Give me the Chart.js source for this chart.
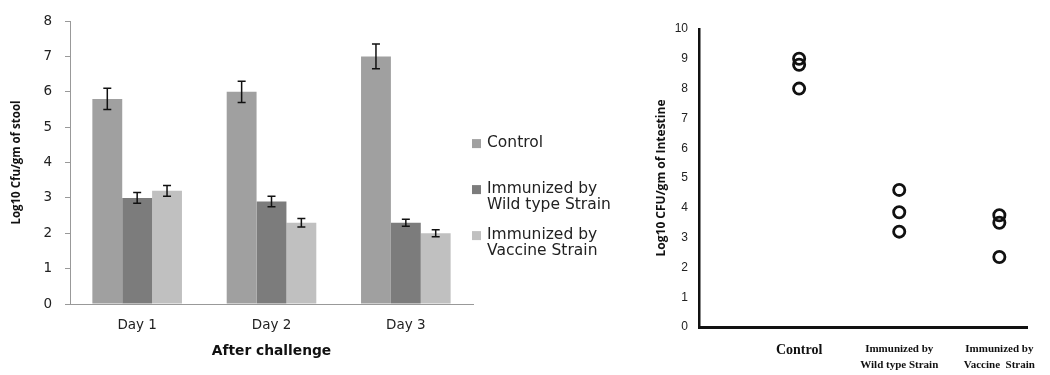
<!DOCTYPE html>
<html>
<head>
<meta charset="utf-8">
<script src="https://cdn.jsdelivr.net/npm/chart.js@4/dist/chart.umd.min.js"></script>
<style>
  html, body { margin: 0; padding: 0; background: #fff; }
  #wrap { position: relative; width: 1050px; height: 375px; overflow: hidden; }
  #left { position: absolute; left: 0; top: 0; }
  #right { position: absolute; left: 630px; top: 0; }
</style>
</head>
<body>
<div id="wrap">
  <canvas id="left" width="630" height="375"></canvas>
  <canvas id="right" width="420" height="375"></canvas>
</div>
<script>
// ---------- Left chart data (Log10 CFU/gm of stool) ----------
const days = ["Day 1", "Day 2", "Day 3"];
const seriesNames = ["Control", ["Immunized by", "Wild type Strain"], ["Immunized by", "Vaccine Strain"]];
const controlStool = [5.8, 6.0, 7.0];
const controlStoolErr = [0.3, 0.3, 0.35];
const wildStool = [3.0, 2.9, 2.3];
const wildStoolErr = [0.15, 0.15, 0.1];
const vaccineStool = [3.2, 2.3, 2.0];
const vaccineStoolErr = [0.15, 0.12, 0.1];
const stoolTicks = [0, 1, 2, 3, 4, 5, 6, 7, 8];

// ---------- Right chart data (Log10 CFU/gm of intestine) ----------
const groups = ["Control", ["Immunized by", "Wild type Strain"], ["Immunized by", "Vaccine  Strain"]];
const groupPositions = [1, 2, 3];
const controlIntestine = [9.0, 8.8, 8.0];
const wildIntestine = [4.6, 3.85, 3.2];
const vaccineIntestine = [3.75, 3.5, 2.35];
const intestineTicks = [0, 1, 2, 3, 4, 5, 6, 7, 8, 9, 10];

const SANS = "'DejaVu Sans', 'Open Sans', sans-serif";

// Error bar plugin: uses bar element positions and the y scale
const errorBarPlugin = {
  id: 'errorBars',
  afterDatasetsDraw(chart) {
    const ctx = chart.ctx;
    const y = chart.scales.y;
    ctx.save();
    ctx.strokeStyle = '#111';
    ctx.lineWidth = 1.5;
    chart.data.datasets.forEach((ds, di) => {
      const meta = chart.getDatasetMeta(di);
      meta.data.forEach((bar, i) => {
        const v = ds.data[i], e = ds.errors[i];
        const yTop = y.getPixelForValue(v + e);
        const yBot = y.getPixelForValue(v - e);
        const x = bar.x, cap = 4;
        ctx.beginPath();
        ctx.moveTo(x, yTop); ctx.lineTo(x, yBot);
        ctx.moveTo(x - cap, yTop); ctx.lineTo(x + cap, yTop);
        ctx.moveTo(x - cap, yBot); ctx.lineTo(x + cap, yBot);
        ctx.stroke();
      });
    });
    ctx.restore();
  }
};

// Legend plugin with multi-line labels
const sideLegendPlugin = {
  id: 'sideLegend',
  afterDraw(chart) {
    const ctx = chart.ctx;
    const area = chart.chartArea;
    const x0 = area.right - 1;
    let yLine = area.top + 122;
    ctx.save();
    ctx.font = '15.5px ' + SANS;
    ctx.textBaseline = 'middle';
    ctx.textAlign = 'left';
    chart.data.datasets.forEach((ds) => {
      const lines = Array.isArray(ds.label) ? ds.label : [ds.label];
      ctx.fillStyle = ds.backgroundColor;
      ctx.fillRect(x0, yLine - 4, 9, 9);
      ctx.fillStyle = '#222';
      lines.forEach((t, k) => ctx.fillText(t, x0 + 15, yLine + k * 16));
      yLine += 46;
    });
    ctx.restore();
  }
};

new Chart(document.getElementById('left'), {
  type: 'bar',
  data: {
    labels: days,
    datasets: [
      { label: seriesNames[0], data: controlStool, errors: controlStoolErr, backgroundColor: '#a0a0a0' },
      { label: seriesNames[1], data: wildStool, errors: wildStoolErr, backgroundColor: '#7c7c7c' },
      { label: seriesNames[2], data: vaccineStool, errors: vaccineStoolErr, backgroundColor: '#c0c0c0' }
    ]
  },
  options: {
    responsive: false,
    animation: false,
    devicePixelRatio: 1,
    layout: { padding: { top: 16, right: 157, bottom: 0, left: 0 } },
    plugins: { legend: { display: false }, tooltip: { enabled: false } },
    datasets: { bar: { categoryPercentage: 0.667, barPercentage: 1.0 } },
    scales: {
      x: {
        grid: { display: false, drawTicks: false },
        border: { display: true, color: '#999', width: 1 },
        ticks: { padding: 13, color: '#222', font: { family: SANS, size: 13.5 } },
        title: { display: true, text: 'After challenge', color: '#111',
                 font: { family: SANS, size: 13.8, weight: 'bold' }, padding: { top: 0, bottom: 15 } },
        afterFit(scale) { scale.height = 71; }
      },
      y: {
        min: 0, max: 8,
        afterBuildTicks(scale) { scale.ticks = stoolTicks.map(v => ({ value: v })); },
        grid: { drawOnChartArea: false, drawTicks: true, tickLength: 5, color: '#999' },
        border: { display: true, color: '#999', width: 1 },
        ticks: { padding: 13, color: '#222', font: { family: SANS, size: 13.5 } },
        title: { display: true, text: 'Log10 Cfu/gm of stool', color: '#111',
                 font: { family: "'Open Sans', sans-serif", size: 11.5, weight: 'bold' }, padding: { top: 10, bottom: 0 } },
        afterFit(scale) { scale.width = 70; }
      }
    }
  },
  plugins: [errorBarPlugin, sideLegendPlugin]
});

// ---------- Right chart ----------
const toPoints = (pos, vals) => vals.map(v => ({ x: pos, y: v }));
const pointStyle = { pointRadius: 5.6, pointBorderWidth: 2.8, pointBorderColor: '#111',
                     pointBackgroundColor: 'rgba(255,255,255,0)', showLine: false };

new Chart(document.getElementById('right'), {
  type: 'scatter',
  data: {
    datasets: [
      Object.assign({ label: 'Control', data: toPoints(groupPositions[0], controlIntestine) }, pointStyle),
      Object.assign({ label: 'Wild type', data: toPoints(groupPositions[1], wildIntestine) }, pointStyle),
      Object.assign({ label: 'Vaccine', data: toPoints(groupPositions[2], vaccineIntestine) }, pointStyle)
    ]
  },
  options: {
    responsive: false,
    animation: false,
    devicePixelRatio: 1,
    layout: { padding: { top: 29, right: 13, bottom: 0, left: 0 } },
    plugins: { legend: { display: false }, tooltip: { enabled: false } },
    scales: {
      x: {
        type: 'linear', min: 0, max: 3.28,
        afterBuildTicks(scale) { scale.ticks = groupPositions.map(v => ({ value: v })); },
        grid: { display: false, drawTicks: false },
        border: { display: true, color: '#111', width: 3 },
        ticks: {
          padding: 14,
          maxRotation: 0, autoSkip: false,
          color: '#111',
          callback(value) { const i = groupPositions.indexOf(value); return i >= 0 ? groups[i] : ''; },
          font(ctx) {
            return ctx.index === 0
              ? { family: "'Liberation Serif', serif", size: 14, weight: 'bold', lineHeight: 1.3 }
              : { family: "'Liberation Serif', serif", size: 11, weight: 'bold', lineHeight: 1.45 };
          }
        },
        afterFit(scale) { scale.height = 48; }
      },
      y: {
        min: 0, max: 10,
        afterBuildTicks(scale) { scale.ticks = intestineTicks.map(v => ({ value: v })); },
        grid: { display: false, drawTicks: false },
        border: { display: true, color: '#111', width: 2.5 },
        ticks: { padding: 11, color: '#222',
                 font: { family: "'Liberation Sans Narrow', 'Liberation Sans', sans-serif", size: 12 } },
        title: { display: true, text: 'Log10 CFU/gm of Intestine', color: '#111',
                 font: { family: "'Open Sans', sans-serif", size: 12, weight: 'bold' }, padding: { top: 24, bottom: 0 } },
        afterFit(scale) { scale.width = 69; }
      }
    }
  }
});
</script>
</body>
</html>
